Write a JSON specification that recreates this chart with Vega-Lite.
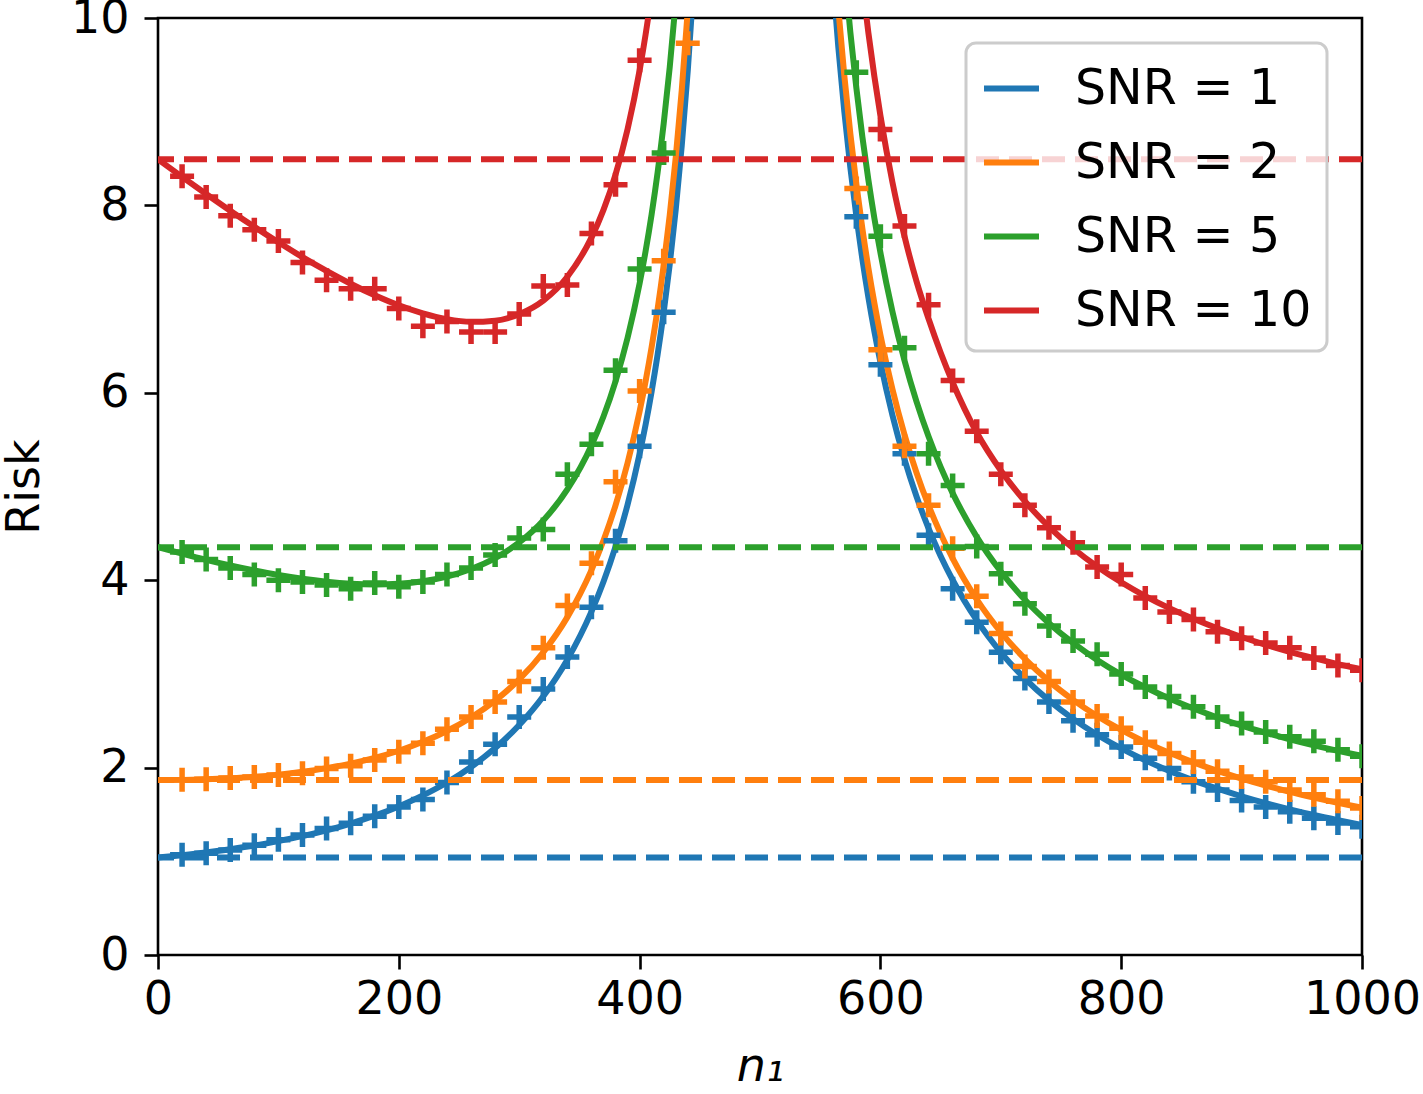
{
  "$schema": "https://vega.github.io/schema/vega-lite/v6.json",
  "width": 1204,
  "height": 937,
  "autosize": {"type": "none"},
  "padding": {"left": 158, "top": 18, "right": 61, "bottom": 139},
  "background": "white",
  "config": {
    "font": "DejaVu Sans",
    "view": {"stroke": "black", "strokeWidth": 2.6},
    "legend": {"strokeWidth": 3},
    "axis": {
      "grid": false,
      "domain": false,
      "tickColor": "black",
      "tickWidth": 2.6,
      "tickSize": 14,
      "labelFont": "DejaVu Sans",
      "labelFontSize": 46,
      "labelColor": "black",
      "labelFlush": false,
      "labelOverlap": false,
      "titleFont": "DejaVu Sans",
      "titleFontSize": 46,
      "titleFontWeight": "normal",
      "titleColor": "black"
    }
  },
  "datasets": {
    "curves": [
      {"snr": 1, "side": "L", "n": 0, "risk": 1.04},
      {"snr": 1, "side": "L", "n": 20, "risk": 1.065},
      {"snr": 1, "side": "L", "n": 40, "risk": 1.094},
      {"snr": 1, "side": "L", "n": 60, "risk": 1.129},
      {"snr": 1, "side": "L", "n": 80, "risk": 1.168},
      {"snr": 1, "side": "L", "n": 100, "risk": 1.215},
      {"snr": 1, "side": "L", "n": 120, "risk": 1.268},
      {"snr": 1, "side": "L", "n": 140, "risk": 1.33},
      {"snr": 1, "side": "L", "n": 160, "risk": 1.403},
      {"snr": 1, "side": "L", "n": 180, "risk": 1.487},
      {"snr": 1, "side": "L", "n": 200, "risk": 1.586},
      {"snr": 1, "side": "L", "n": 220, "risk": 1.703},
      {"snr": 1, "side": "L", "n": 240, "risk": 1.841},
      {"snr": 1, "side": "L", "n": 260, "risk": 2.007},
      {"snr": 1, "side": "L", "n": 280, "risk": 2.208},
      {"snr": 1, "side": "L", "n": 300, "risk": 2.454},
      {"snr": 1, "side": "L", "n": 320, "risk": 2.761},
      {"snr": 1, "side": "L", "n": 340, "risk": 3.152},
      {"snr": 1, "side": "L", "n": 360, "risk": 3.664},
      {"snr": 1, "side": "L", "n": 370, "risk": 3.983},
      {"snr": 1, "side": "L", "n": 380, "risk": 4.358},
      {"snr": 1, "side": "L", "n": 390, "risk": 4.805},
      {"snr": 1, "side": "L", "n": 400, "risk": 5.347},
      {"snr": 1, "side": "L", "n": 405, "risk": 5.662},
      {"snr": 1, "side": "L", "n": 410, "risk": 6.015},
      {"snr": 1, "side": "L", "n": 415, "risk": 6.411},
      {"snr": 1, "side": "L", "n": 420, "risk": 6.858},
      {"snr": 1, "side": "L", "n": 425, "risk": 7.368},
      {"snr": 1, "side": "L", "n": 430, "risk": 7.954},
      {"snr": 1, "side": "L", "n": 435, "risk": 8.636},
      {"snr": 1, "side": "L", "n": 440, "risk": 9.436},
      {"snr": 1, "side": "L", "n": 445, "risk": 10.389},
      {"snr": 1, "side": "L", "n": 450, "risk": 11.544},
      {"snr": 1, "side": "R", "n": 555, "risk": 11.461},
      {"snr": 1, "side": "R", "n": 560, "risk": 10.504},
      {"snr": 1, "side": "R", "n": 565, "risk": 9.696},
      {"snr": 1, "side": "R", "n": 570, "risk": 9.006},
      {"snr": 1, "side": "R", "n": 575, "risk": 8.408},
      {"snr": 1, "side": "R", "n": 580, "risk": 7.887},
      {"snr": 1, "side": "R", "n": 585, "risk": 7.427},
      {"snr": 1, "side": "R", "n": 590, "risk": 7.019},
      {"snr": 1, "side": "R", "n": 595, "risk": 6.654},
      {"snr": 1, "side": "R", "n": 600, "risk": 6.327},
      {"snr": 1, "side": "R", "n": 610, "risk": 5.761},
      {"snr": 1, "side": "R", "n": 620, "risk": 5.291},
      {"snr": 1, "side": "R", "n": 630, "risk": 4.894},
      {"snr": 1, "side": "R", "n": 640, "risk": 4.554},
      {"snr": 1, "side": "R", "n": 650, "risk": 4.259},
      {"snr": 1, "side": "R", "n": 660, "risk": 4.002},
      {"snr": 1, "side": "R", "n": 680, "risk": 3.573},
      {"snr": 1, "side": "R", "n": 700, "risk": 3.23},
      {"snr": 1, "side": "R", "n": 720, "risk": 2.95},
      {"snr": 1, "side": "R", "n": 740, "risk": 2.717},
      {"snr": 1, "side": "R", "n": 760, "risk": 2.52},
      {"snr": 1, "side": "R", "n": 780, "risk": 2.351},
      {"snr": 1, "side": "R", "n": 800, "risk": 2.205},
      {"snr": 1, "side": "R", "n": 820, "risk": 2.077},
      {"snr": 1, "side": "R", "n": 840, "risk": 1.964},
      {"snr": 1, "side": "R", "n": 860, "risk": 1.864},
      {"snr": 1, "side": "R", "n": 880, "risk": 1.775},
      {"snr": 1, "side": "R", "n": 900, "risk": 1.694},
      {"snr": 1, "side": "R", "n": 920, "risk": 1.621},
      {"snr": 1, "side": "R", "n": 940, "risk": 1.555},
      {"snr": 1, "side": "R", "n": 960, "risk": 1.494},
      {"snr": 1, "side": "R", "n": 980, "risk": 1.439},
      {"snr": 1, "side": "R", "n": 1000, "risk": 1.387},

      {"snr": 2, "side": "L", "n": 0, "risk": 1.868},
      {"snr": 2, "side": "L", "n": 20, "risk": 1.869},
      {"snr": 2, "side": "L", "n": 40, "risk": 1.875},
      {"snr": 2, "side": "L", "n": 60, "risk": 1.886},
      {"snr": 2, "side": "L", "n": 80, "risk": 1.902},
      {"snr": 2, "side": "L", "n": 100, "risk": 1.925},
      {"snr": 2, "side": "L", "n": 120, "risk": 1.955},
      {"snr": 2, "side": "L", "n": 140, "risk": 1.994},
      {"snr": 2, "side": "L", "n": 160, "risk": 2.043},
      {"snr": 2, "side": "L", "n": 180, "risk": 2.104},
      {"snr": 2, "side": "L", "n": 200, "risk": 2.18},
      {"snr": 2, "side": "L", "n": 220, "risk": 2.275},
      {"snr": 2, "side": "L", "n": 240, "risk": 2.391},
      {"snr": 2, "side": "L", "n": 260, "risk": 2.535},
      {"snr": 2, "side": "L", "n": 280, "risk": 2.715},
      {"snr": 2, "side": "L", "n": 300, "risk": 2.941},
      {"snr": 2, "side": "L", "n": 320, "risk": 3.231},
      {"snr": 2, "side": "L", "n": 340, "risk": 3.606},
      {"snr": 2, "side": "L", "n": 360, "risk": 4.108},
      {"snr": 2, "side": "L", "n": 370, "risk": 4.424},
      {"snr": 2, "side": "L", "n": 380, "risk": 4.799},
      {"snr": 2, "side": "L", "n": 390, "risk": 5.251},
      {"snr": 2, "side": "L", "n": 400, "risk": 5.802},
      {"snr": 2, "side": "L", "n": 405, "risk": 6.125},
      {"snr": 2, "side": "L", "n": 410, "risk": 6.488},
      {"snr": 2, "side": "L", "n": 415, "risk": 6.897},
      {"snr": 2, "side": "L", "n": 420, "risk": 7.362},
      {"snr": 2, "side": "L", "n": 425, "risk": 7.894},
      {"snr": 2, "side": "L", "n": 430, "risk": 8.51},
      {"snr": 2, "side": "L", "n": 435, "risk": 9.229},
      {"snr": 2, "side": "L", "n": 440, "risk": 10.08},
      {"snr": 2, "side": "L", "n": 445, "risk": 11.1},
      {"snr": 2, "side": "R", "n": 560, "risk": 10.948},
      {"snr": 2, "side": "R", "n": 565, "risk": 10.107},
      {"snr": 2, "side": "R", "n": 570, "risk": 9.389},
      {"snr": 2, "side": "R", "n": 575, "risk": 8.769},
      {"snr": 2, "side": "R", "n": 580, "risk": 8.229},
      {"snr": 2, "side": "R", "n": 585, "risk": 7.754},
      {"snr": 2, "side": "R", "n": 590, "risk": 7.333},
      {"snr": 2, "side": "R", "n": 595, "risk": 6.957},
      {"snr": 2, "side": "R", "n": 600, "risk": 6.619},
      {"snr": 2, "side": "R", "n": 610, "risk": 6.038},
      {"snr": 2, "side": "R", "n": 620, "risk": 5.555},
      {"snr": 2, "side": "R", "n": 630, "risk": 5.147},
      {"snr": 2, "side": "R", "n": 640, "risk": 4.798},
      {"snr": 2, "side": "R", "n": 650, "risk": 4.497},
      {"snr": 2, "side": "R", "n": 660, "risk": 4.233},
      {"snr": 2, "side": "R", "n": 680, "risk": 3.795},
      {"snr": 2, "side": "R", "n": 700, "risk": 3.446},
      {"snr": 2, "side": "R", "n": 720, "risk": 3.161},
      {"snr": 2, "side": "R", "n": 740, "risk": 2.923},
      {"snr": 2, "side": "R", "n": 760, "risk": 2.723},
      {"snr": 2, "side": "R", "n": 780, "risk": 2.551},
      {"snr": 2, "side": "R", "n": 800, "risk": 2.402},
      {"snr": 2, "side": "R", "n": 820, "risk": 2.272},
      {"snr": 2, "side": "R", "n": 840, "risk": 2.158},
      {"snr": 2, "side": "R", "n": 860, "risk": 2.056},
      {"snr": 2, "side": "R", "n": 880, "risk": 1.965},
      {"snr": 2, "side": "R", "n": 900, "risk": 1.883},
      {"snr": 2, "side": "R", "n": 920, "risk": 1.809},
      {"snr": 2, "side": "R", "n": 940, "risk": 1.741},
      {"snr": 2, "side": "R", "n": 960, "risk": 1.68},
      {"snr": 2, "side": "R", "n": 980, "risk": 1.624},
      {"snr": 2, "side": "R", "n": 1000, "risk": 1.572},

      {"snr": 5, "side": "L", "n": 0, "risk": 4.352},
      {"snr": 5, "side": "L", "n": 20, "risk": 4.283},
      {"snr": 5, "side": "L", "n": 40, "risk": 4.217},
      {"snr": 5, "side": "L", "n": 60, "risk": 4.157},
      {"snr": 5, "side": "L", "n": 80, "risk": 4.103},
      {"snr": 5, "side": "L", "n": 100, "risk": 4.055},
      {"snr": 5, "side": "L", "n": 120, "risk": 4.015},
      {"snr": 5, "side": "L", "n": 140, "risk": 3.984},
      {"snr": 5, "side": "L", "n": 160, "risk": 3.963},
      {"snr": 5, "side": "L", "n": 180, "risk": 3.955},
      {"snr": 5, "side": "L", "n": 200, "risk": 3.963},
      {"snr": 5, "side": "L", "n": 220, "risk": 3.989},
      {"snr": 5, "side": "L", "n": 240, "risk": 4.039},
      {"snr": 5, "side": "L", "n": 260, "risk": 4.119},
      {"snr": 5, "side": "L", "n": 280, "risk": 4.236},
      {"snr": 5, "side": "L", "n": 300, "risk": 4.403},
      {"snr": 5, "side": "L", "n": 320, "risk": 4.638},
      {"snr": 5, "side": "L", "n": 340, "risk": 4.969},
      {"snr": 5, "side": "L", "n": 360, "risk": 5.438},
      {"snr": 5, "side": "L", "n": 370, "risk": 5.747},
      {"snr": 5, "side": "L", "n": 380, "risk": 6.123},
      {"snr": 5, "side": "L", "n": 390, "risk": 6.586},
      {"snr": 5, "side": "L", "n": 400, "risk": 7.166},
      {"snr": 5, "side": "L", "n": 405, "risk": 7.513},
      {"snr": 5, "side": "L", "n": 410, "risk": 7.906},
      {"snr": 5, "side": "L", "n": 415, "risk": 8.355},
      {"snr": 5, "side": "L", "n": 420, "risk": 8.872},
      {"snr": 5, "side": "L", "n": 425, "risk": 9.472},
      {"snr": 5, "side": "L", "n": 430, "risk": 10.176},
      {"snr": 5, "side": "L", "n": 435, "risk": 11.009},
      {"snr": 5, "side": "R", "n": 565, "risk": 11.337},
      {"snr": 5, "side": "R", "n": 570, "risk": 10.539},
      {"snr": 5, "side": "R", "n": 575, "risk": 9.853},
      {"snr": 5, "side": "R", "n": 580, "risk": 9.257},
      {"snr": 5, "side": "R", "n": 585, "risk": 8.735},
      {"snr": 5, "side": "R", "n": 590, "risk": 8.274},
      {"snr": 5, "side": "R", "n": 595, "risk": 7.864},
      {"snr": 5, "side": "R", "n": 600, "risk": 7.497},
      {"snr": 5, "side": "R", "n": 610, "risk": 6.866},
      {"snr": 5, "side": "R", "n": 620, "risk": 6.345},
      {"snr": 5, "side": "R", "n": 630, "risk": 5.906},
      {"snr": 5, "side": "R", "n": 640, "risk": 5.533},
      {"snr": 5, "side": "R", "n": 650, "risk": 5.21},
      {"snr": 5, "side": "R", "n": 660, "risk": 4.929},
      {"snr": 5, "side": "R", "n": 680, "risk": 4.463},
      {"snr": 5, "side": "R", "n": 700, "risk": 4.093},
      {"snr": 5, "side": "R", "n": 720, "risk": 3.791},
      {"snr": 5, "side": "R", "n": 740, "risk": 3.541},
      {"snr": 5, "side": "R", "n": 760, "risk": 3.33},
      {"snr": 5, "side": "R", "n": 780, "risk": 3.149},
      {"snr": 5, "side": "R", "n": 800, "risk": 2.993},
      {"snr": 5, "side": "R", "n": 820, "risk": 2.857},
      {"snr": 5, "side": "R", "n": 840, "risk": 2.737},
      {"snr": 5, "side": "R", "n": 860, "risk": 2.63},
      {"snr": 5, "side": "R", "n": 880, "risk": 2.535},
      {"snr": 5, "side": "R", "n": 900, "risk": 2.449},
      {"snr": 5, "side": "R", "n": 920, "risk": 2.372},
      {"snr": 5, "side": "R", "n": 940, "risk": 2.302},
      {"snr": 5, "side": "R", "n": 960, "risk": 2.238},
      {"snr": 5, "side": "R", "n": 980, "risk": 2.179},
      {"snr": 5, "side": "R", "n": 1000, "risk": 2.125},

      {"snr": 10, "side": "L", "n": 0, "risk": 8.492},
      {"snr": 10, "side": "L", "n": 20, "risk": 8.304},
      {"snr": 10, "side": "L", "n": 40, "risk": 8.121},
      {"snr": 10, "side": "L", "n": 60, "risk": 7.943},
      {"snr": 10, "side": "L", "n": 80, "risk": 7.771},
      {"snr": 10, "side": "L", "n": 100, "risk": 7.606},
      {"snr": 10, "side": "L", "n": 120, "risk": 7.448},
      {"snr": 10, "side": "L", "n": 140, "risk": 7.301},
      {"snr": 10, "side": "L", "n": 160, "risk": 7.164},
      {"snr": 10, "side": "L", "n": 180, "risk": 7.041},
      {"snr": 10, "side": "L", "n": 200, "risk": 6.934},
      {"snr": 10, "side": "L", "n": 220, "risk": 6.848},
      {"snr": 10, "side": "L", "n": 240, "risk": 6.786},
      {"snr": 10, "side": "L", "n": 260, "risk": 6.757},
      {"snr": 10, "side": "L", "n": 280, "risk": 6.77},
      {"snr": 10, "side": "L", "n": 300, "risk": 6.839},
      {"snr": 10, "side": "L", "n": 320, "risk": 6.984},
      {"snr": 10, "side": "L", "n": 340, "risk": 7.239},
      {"snr": 10, "side": "L", "n": 360, "risk": 7.656},
      {"snr": 10, "side": "L", "n": 370, "risk": 7.952},
      {"snr": 10, "side": "L", "n": 380, "risk": 8.329},
      {"snr": 10, "side": "L", "n": 390, "risk": 8.813},
      {"snr": 10, "side": "L", "n": 400, "risk": 9.441},
      {"snr": 10, "side": "L", "n": 405, "risk": 9.825},
      {"snr": 10, "side": "L", "n": 410, "risk": 10.269},
      {"snr": 10, "side": "L", "n": 415, "risk": 10.785},
      {"snr": 10, "side": "R", "n": 575, "risk": 11.658},
      {"snr": 10, "side": "R", "n": 580, "risk": 10.97},
      {"snr": 10, "side": "R", "n": 585, "risk": 10.371},
      {"snr": 10, "side": "R", "n": 590, "risk": 9.843},
      {"snr": 10, "side": "R", "n": 595, "risk": 9.376},
      {"snr": 10, "side": "R", "n": 600, "risk": 8.959},
      {"snr": 10, "side": "R", "n": 610, "risk": 8.247},
      {"snr": 10, "side": "R", "n": 620, "risk": 7.67},
      {"snr": 10, "side": "R", "n": 630, "risk": 7.19},
      {"snr": 10, "side": "R", "n": 640, "risk": 6.79},
      {"snr": 10, "side": "R", "n": 650, "risk": 6.43},
      {"snr": 10, "side": "R", "n": 660, "risk": 6.11},
      {"snr": 10, "side": "R", "n": 680, "risk": 5.576},
      {"snr": 10, "side": "R", "n": 700, "risk": 5.171},
      {"snr": 10, "side": "R", "n": 720, "risk": 4.842},
      {"snr": 10, "side": "R", "n": 740, "risk": 4.57},
      {"snr": 10, "side": "R", "n": 760, "risk": 4.341},
      {"snr": 10, "side": "R", "n": 780, "risk": 4.146},
      {"snr": 10, "side": "R", "n": 800, "risk": 3.978},
      {"snr": 10, "side": "R", "n": 820, "risk": 3.831},
      {"snr": 10, "side": "R", "n": 840, "risk": 3.702},
      {"snr": 10, "side": "R", "n": 860, "risk": 3.588},
      {"snr": 10, "side": "R", "n": 880, "risk": 3.486},
      {"snr": 10, "side": "R", "n": 900, "risk": 3.394},
      {"snr": 10, "side": "R", "n": 920, "risk": 3.311},
      {"snr": 10, "side": "R", "n": 940, "risk": 3.236},
      {"snr": 10, "side": "R", "n": 960, "risk": 3.168},
      {"snr": 10, "side": "R", "n": 980, "risk": 3.105},
      {"snr": 10, "side": "R", "n": 1000, "risk": 3.048}
    ],
    "trials": [
      {"snr": 1, "n": 20, "risk": 1.07}, {"snr": 1, "n": 40, "risk": 1.085}, {"snr": 1, "n": 60, "risk": 1.12},
      {"snr": 1, "n": 80, "risk": 1.17}, {"snr": 1, "n": 100, "risk": 1.23}, {"snr": 1, "n": 120, "risk": 1.28},
      {"snr": 1, "n": 140, "risk": 1.35}, {"snr": 1, "n": 160, "risk": 1.405}, {"snr": 1, "n": 180, "risk": 1.48},
      {"snr": 1, "n": 200, "risk": 1.58}, {"snr": 1, "n": 220, "risk": 1.66}, {"snr": 1, "n": 240, "risk": 1.84},
      {"snr": 1, "n": 260, "risk": 2.06}, {"snr": 1, "n": 280, "risk": 2.25}, {"snr": 1, "n": 300, "risk": 2.54},
      {"snr": 1, "n": 320, "risk": 2.84}, {"snr": 1, "n": 340, "risk": 3.18}, {"snr": 1, "n": 360, "risk": 3.71},
      {"snr": 1, "n": 380, "risk": 4.42}, {"snr": 1, "n": 400, "risk": 5.43}, {"snr": 1, "n": 420, "risk": 6.86},
      {"snr": 1, "n": 580, "risk": 7.88}, {"snr": 1, "n": 600, "risk": 6.3}, {"snr": 1, "n": 620, "risk": 5.35},
      {"snr": 1, "n": 640, "risk": 4.48}, {"snr": 1, "n": 660, "risk": 3.91}, {"snr": 1, "n": 680, "risk": 3.55},
      {"snr": 1, "n": 700, "risk": 3.23}, {"snr": 1, "n": 720, "risk": 2.95}, {"snr": 1, "n": 740, "risk": 2.7},
      {"snr": 1, "n": 760, "risk": 2.5}, {"snr": 1, "n": 780, "risk": 2.35}, {"snr": 1, "n": 800, "risk": 2.22},
      {"snr": 1, "n": 820, "risk": 2.1}, {"snr": 1, "n": 840, "risk": 1.99}, {"snr": 1, "n": 860, "risk": 1.85},
      {"snr": 1, "n": 880, "risk": 1.76}, {"snr": 1, "n": 900, "risk": 1.65}, {"snr": 1, "n": 920, "risk": 1.58},
      {"snr": 1, "n": 940, "risk": 1.53}, {"snr": 1, "n": 960, "risk": 1.46}, {"snr": 1, "n": 980, "risk": 1.41},
      {"snr": 1, "n": 1000, "risk": 1.37},

      {"snr": 2, "n": 20, "risk": 1.87}, {"snr": 2, "n": 40, "risk": 1.875}, {"snr": 2, "n": 60, "risk": 1.89},
      {"snr": 2, "n": 80, "risk": 1.9}, {"snr": 2, "n": 100, "risk": 1.92}, {"snr": 2, "n": 120, "risk": 1.94},
      {"snr": 2, "n": 140, "risk": 1.99}, {"snr": 2, "n": 160, "risk": 2.02}, {"snr": 2, "n": 180, "risk": 2.08},
      {"snr": 2, "n": 200, "risk": 2.17}, {"snr": 2, "n": 220, "risk": 2.26}, {"snr": 2, "n": 240, "risk": 2.41},
      {"snr": 2, "n": 260, "risk": 2.54}, {"snr": 2, "n": 280, "risk": 2.7}, {"snr": 2, "n": 300, "risk": 2.92},
      {"snr": 2, "n": 320, "risk": 3.28}, {"snr": 2, "n": 340, "risk": 3.73}, {"snr": 2, "n": 360, "risk": 4.18},
      {"snr": 2, "n": 380, "risk": 5.05}, {"snr": 2, "n": 400, "risk": 6.02}, {"snr": 2, "n": 420, "risk": 7.41},
      {"snr": 2, "n": 440, "risk": 9.73},
      {"snr": 2, "n": 580, "risk": 8.18}, {"snr": 2, "n": 600, "risk": 6.46}, {"snr": 2, "n": 620, "risk": 5.43},
      {"snr": 2, "n": 640, "risk": 4.8}, {"snr": 2, "n": 660, "risk": 4.34}, {"snr": 2, "n": 680, "risk": 3.83},
      {"snr": 2, "n": 700, "risk": 3.43}, {"snr": 2, "n": 720, "risk": 3.08}, {"snr": 2, "n": 740, "risk": 2.92},
      {"snr": 2, "n": 760, "risk": 2.7}, {"snr": 2, "n": 780, "risk": 2.55}, {"snr": 2, "n": 800, "risk": 2.42},
      {"snr": 2, "n": 820, "risk": 2.27}, {"snr": 2, "n": 840, "risk": 2.15}, {"snr": 2, "n": 860, "risk": 2.06},
      {"snr": 2, "n": 880, "risk": 1.96}, {"snr": 2, "n": 900, "risk": 1.9}, {"snr": 2, "n": 920, "risk": 1.85},
      {"snr": 2, "n": 940, "risk": 1.76}, {"snr": 2, "n": 960, "risk": 1.71}, {"snr": 2, "n": 980, "risk": 1.64},
      {"snr": 2, "n": 1000, "risk": 1.57},

      {"snr": 5, "n": 20, "risk": 4.3}, {"snr": 5, "n": 40, "risk": 4.22}, {"snr": 5, "n": 60, "risk": 4.13},
      {"snr": 5, "n": 80, "risk": 4.06}, {"snr": 5, "n": 100, "risk": 4.0}, {"snr": 5, "n": 120, "risk": 3.98},
      {"snr": 5, "n": 140, "risk": 3.95}, {"snr": 5, "n": 160, "risk": 3.91}, {"snr": 5, "n": 180, "risk": 3.97},
      {"snr": 5, "n": 200, "risk": 3.93}, {"snr": 5, "n": 220, "risk": 3.98}, {"snr": 5, "n": 240, "risk": 4.06},
      {"snr": 5, "n": 260, "risk": 4.13}, {"snr": 5, "n": 280, "risk": 4.27}, {"snr": 5, "n": 300, "risk": 4.45},
      {"snr": 5, "n": 320, "risk": 4.54}, {"snr": 5, "n": 340, "risk": 5.13}, {"snr": 5, "n": 360, "risk": 5.45},
      {"snr": 5, "n": 380, "risk": 6.24}, {"snr": 5, "n": 400, "risk": 7.32}, {"snr": 5, "n": 420, "risk": 8.56},
      {"snr": 5, "n": 580, "risk": 9.42}, {"snr": 5, "n": 600, "risk": 7.67}, {"snr": 5, "n": 620, "risk": 6.48},
      {"snr": 5, "n": 640, "risk": 5.35}, {"snr": 5, "n": 660, "risk": 5.01}, {"snr": 5, "n": 680, "risk": 4.36},
      {"snr": 5, "n": 700, "risk": 4.07}, {"snr": 5, "n": 720, "risk": 3.75}, {"snr": 5, "n": 740, "risk": 3.51},
      {"snr": 5, "n": 760, "risk": 3.35}, {"snr": 5, "n": 780, "risk": 3.21}, {"snr": 5, "n": 800, "risk": 3.0},
      {"snr": 5, "n": 820, "risk": 2.86}, {"snr": 5, "n": 840, "risk": 2.76}, {"snr": 5, "n": 860, "risk": 2.65},
      {"snr": 5, "n": 880, "risk": 2.54}, {"snr": 5, "n": 900, "risk": 2.47}, {"snr": 5, "n": 920, "risk": 2.38},
      {"snr": 5, "n": 940, "risk": 2.33}, {"snr": 5, "n": 960, "risk": 2.28}, {"snr": 5, "n": 980, "risk": 2.19},
      {"snr": 5, "n": 1000, "risk": 2.12},

      {"snr": 10, "n": 20, "risk": 8.31}, {"snr": 10, "n": 40, "risk": 8.09}, {"snr": 10, "n": 60, "risk": 7.89},
      {"snr": 10, "n": 80, "risk": 7.74}, {"snr": 10, "n": 100, "risk": 7.62}, {"snr": 10, "n": 120, "risk": 7.39},
      {"snr": 10, "n": 140, "risk": 7.2}, {"snr": 10, "n": 160, "risk": 7.11}, {"snr": 10, "n": 180, "risk": 7.11},
      {"snr": 10, "n": 200, "risk": 6.9}, {"snr": 10, "n": 220, "risk": 6.71}, {"snr": 10, "n": 240, "risk": 6.76},
      {"snr": 10, "n": 260, "risk": 6.65}, {"snr": 10, "n": 280, "risk": 6.65}, {"snr": 10, "n": 300, "risk": 6.84},
      {"snr": 10, "n": 320, "risk": 7.14}, {"snr": 10, "n": 340, "risk": 7.15}, {"snr": 10, "n": 360, "risk": 7.7},
      {"snr": 10, "n": 380, "risk": 8.22}, {"snr": 10, "n": 400, "risk": 9.55},
      {"snr": 10, "n": 600, "risk": 8.81}, {"snr": 10, "n": 620, "risk": 7.78}, {"snr": 10, "n": 640, "risk": 6.94},
      {"snr": 10, "n": 660, "risk": 6.13}, {"snr": 10, "n": 680, "risk": 5.59}, {"snr": 10, "n": 700, "risk": 5.13},
      {"snr": 10, "n": 720, "risk": 4.8}, {"snr": 10, "n": 740, "risk": 4.56}, {"snr": 10, "n": 760, "risk": 4.4},
      {"snr": 10, "n": 780, "risk": 4.14}, {"snr": 10, "n": 800, "risk": 4.06}, {"snr": 10, "n": 820, "risk": 3.81},
      {"snr": 10, "n": 840, "risk": 3.66}, {"snr": 10, "n": 860, "risk": 3.58}, {"snr": 10, "n": 880, "risk": 3.45},
      {"snr": 10, "n": 900, "risk": 3.38}, {"snr": 10, "n": 920, "risk": 3.33}, {"snr": 10, "n": 940, "risk": 3.28},
      {"snr": 10, "n": 960, "risk": 3.17}, {"snr": 10, "n": 980, "risk": 3.09}, {"snr": 10, "n": 1000, "risk": 3.04}
    ],
    "baselines": [
      {"snr": 1, "risk": 1.04},
      {"snr": 2, "risk": 1.868},
      {"snr": 5, "risk": 4.352},
      {"snr": 10, "risk": 8.492}
    ]
  },
  "layer": [
    {
      "data": {"name": "curves"},
      "mark": {"type": "line", "strokeWidth": 6, "interpolate": "monotone", "clip": true},
      "encoding": {
        "x": {
          "field": "n", "type": "quantitative",
          "scale": {"domain": [0, 1000], "nice": false, "zero": false},
          "axis": {"values": [0, 200, 400, 600, 800, 1000], "format": "d", "labelPadding": 8, "title": "n₁", "titleFontStyle": "italic", "titlePadding": 22}
        },
        "y": {
          "field": "risk", "type": "quantitative",
          "scale": {"domain": [0, 10], "nice": false},
          "axis": {"values": [0, 2, 4, 6, 8, 10], "format": "d", "labelPadding": 15, "title": "Risk", "titlePadding": 22}
        },
        "color": {
          "field": "snr", "type": "nominal",
          "scale": {"domain": [1, 2, 5, 10], "range": ["#1f77b4", "#ff7f0e", "#2ca02c", "#d62728"]},
          "legend": {
            "title": null,
            "orient": "none",
            "legendX": 808,
            "legendY": 25,
            "symbolType": "stroke",
            "symbolSize": 3025,
            "symbolStrokeWidth": 6,
            "labelFont": "DejaVu Sans",
            "labelFontSize": 49,
            "labelColor": "black",
            "labelExpr": "'SNR = ' + datum.label",
            "labelOffset": 33,
            "labelLimit": 400,
            "rowPadding": 18,
            "padding": 15,
            "fillColor": "rgba(255,255,255,0.8)",
            "strokeColor": "#cccccc",
            "cornerRadius": 10
          }
        },
        "detail": {"field": "side", "type": "nominal"},
        "order": {"field": "n", "type": "quantitative"}
      }
    },
    {
      "data": {"name": "trials"},
      "mark": {"type": "point", "shape": "M-1,0L1,0M0,-1L0,1", "filled": false, "strokeWidth": 5.5, "size": 576, "opacity": 1, "clip": true},
      "encoding": {
        "x": {"field": "n", "type": "quantitative"},
        "y": {"field": "risk", "type": "quantitative"},
        "color": {"field": "snr", "type": "nominal"}
      }
    },
    {
      "data": {"name": "baselines"},
      "mark": {"type": "rule", "strokeWidth": 6, "strokeDash": [23, 10]},
      "encoding": {
        "y": {"field": "risk", "type": "quantitative"},
        "color": {"field": "snr", "type": "nominal"}
      }
    }
  ]
}
